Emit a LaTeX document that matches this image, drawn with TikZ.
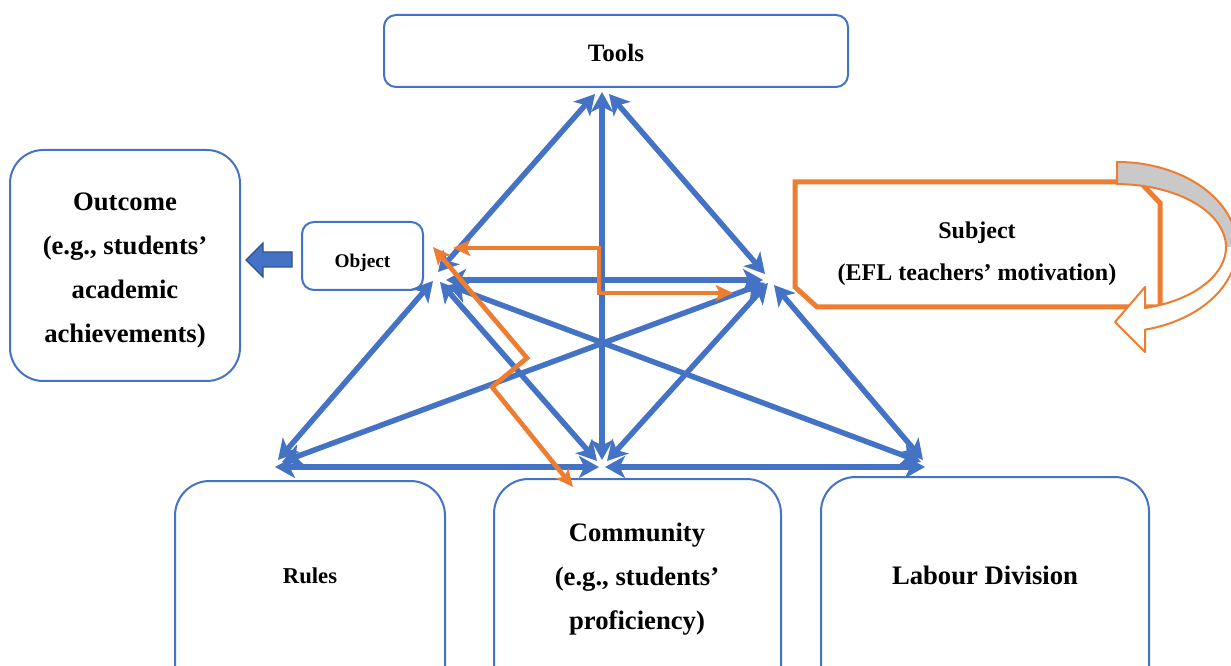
\documentclass[tikz,border=0pt]{standalone}
\usepackage{fontspec}
\setmainfont{Liberation Serif}
\usetikzlibrary{arrows.meta}
\definecolor{bleu}{HTML}{4472C4}
\definecolor{bleuf}{HTML}{2F528F}
\definecolor{orng}{HTML}{ED7D31}
\definecolor{gris}{HTML}{C9C9C9}

\begin{document}
\begin{tikzpicture}[x=0.75pt, y=-0.75pt,
            boite/.style={draw=bleu, line width=1.5pt, rounded corners=#1, fill=white}, boite/.default=9pt,
            gros/.style={font=\fontsize{20}{33}\selectfont\bfseries, align=center},
            lien/.style={draw=bleu, line width=4.1pt,
                {Stealth[length=15pt,width=16.5pt,inset=4pt]}-{Stealth[length=15pt,width=16.5pt,inset=4pt]}},
            chemin/.style={draw=orng, line width=3.5pt,
                {Stealth[length=13pt,width=12pt,inset=3pt]}-{Stealth[length=13pt,width=12pt,inset=3pt]}},
        ]
        \useasboundingbox (0,0) rectangle (1231,666);
        % corners of the two triangles
        \coordinate (tp) at (602,92);
        \coordinate (ob) at (438,280);
        \coordinate (sb) at (767,280);
        \coordinate (rl) at (277,466);
        \coordinate (cm) at (602,466);
        \coordinate (lb) at (923,466);

        \node[boite, minimum width=348pt, minimum height=54pt, text height=16pt, text depth=0pt,
            font=\fontsize{18.75}{22}\selectfont\bfseries] (tools) at (616,51) {Tools};
        \node[boite=25pt, minimum width=172.5pt, minimum height=173.25pt] (outcomebox) at (125,265.5) {};
        \node[gros] (outcome) at (125,271) {Outcome\\(e.g., students’\\academic\\achievements)};
        \node[boite, minimum width=90.75pt, minimum height=51pt, text height=17pt, text depth=0pt,
            font=\fontsize{14.5}{17}\selectfont\bfseries] (object) at (362.5,256) {Object};
        \filldraw[fill=bleu, draw=bleuf, line width=1pt] (292,252) -- (263,252) -- (263,243)
            -- (246,260) -- (263,277) -- (263,267) -- (292,267) -- cycle;

        % lower row
        \node[boite=26pt, minimum width=202.5pt, minimum height=195pt, anchor=north] (rulesbox) at (310,480) {};
        \node[font=\fontsize{17}{20}\selectfont\bfseries] (rules) at (310,576) {Rules};
        \node[boite=26pt, minimum width=215.25pt, minimum height=195pt, anchor=north] (communitybox) at (637.5,478) {};
        \node[gros] (community) at (637,579) {Community\\(e.g., students’\\proficiency)};
        \node[boite=26pt, minimum width=246pt, minimum height=195pt, anchor=north] (labourbox) at (985,476) {};
        \node[gros] (labour) at (985,575) {Labour Division};

        % subject frame and its turning arrow
        \draw[orng, line width=3.75pt] (795,182) -- (1140,182) -- (1160,203) -- (1160,307)
            -- (817,307) -- (795,287) -- cycle;
        \node[font=\fontsize{18}{31.5}\selectfont\bfseries, align=center] (subject)
            at (977,254) {Subject\\(EFL teachers’ motivation)};
        \fill[gris] (1117,162) arc[start angle=-90, end angle=0, x radius=120, y radius=85]
            -- (1226,247) arc[start angle=0, end angle=-90, x radius=109, y radius=63] -- cycle;
        \fill[white] (1237,247) arc[start angle=0, end angle=76.5, x radius=120, y radius=85]
            -- (1145,352) -- (1115,322) -- (1145,287) -- (1145,308)
            arc[start angle=75.1, end angle=0, x radius=109, y radius=63] -- cycle;
        \draw[orng, line width=1.5pt, line join=round] (1117,162)
            arc[start angle=-90, end angle=76.5, x radius=120, y radius=85]
            -- (1145,352) -- (1115,322) -- (1145,287) -- (1145,308)
            arc[start angle=75.1, end angle=-90, x radius=109, y radius=63] -- cycle;

        % links
        \draw[lien] ([shift={(-7,2)}]tp) -- ([shift={(0,-8)}]ob);
        \draw[lien] ([shift={(7,2)}]tp) -- ([shift={(-2,-6)}]sb);
        \draw[lien] (tp) -- ([shift={(0,-6)}]cm);
        \draw[lien] ([shift={(8,0)}]ob) -- ([shift={(-4,0)}]sb);
        \draw[lien] ([shift={(-5,1)}]ob) -- ([shift={(1,-6)}]rl);
        \draw[lien] ([shift={(2,2)}]ob) -- ([shift={(-5,-5)}]cm);
        \draw[lien] ([shift={(10,5)}]ob) -- ([shift={(-2,-4)}]lb);
        \draw[lien] ([shift={(-2,3)}]sb) -- ([shift={(5,-4)}]rl);
        \draw[lien] ([shift={(1,3)}]sb) -- ([shift={(5,-5)}]cm);
        \draw[lien] ([shift={(7,5)}]sb) -- ([shift={(0,-6)}]lb);
        \draw[lien] ([shift={(-2,1)}]rl) -- ([shift={(-3,1)}]cm);
        \draw[lien] ([shift={(3,1)}]cm) -- ([shift={(2,1)}]lb);

        % orange paths
        \coordinate (oa) at (453,248);
        \coordinate (ob2) at (733,293);
        \coordinate (oc) at (433,247);
        \coordinate (od) at (573,487);
        \draw[chemin] (oa) -- (599,248) -- (599,293) -- (ob2);
        \draw[chemin] (oc) -- (527,358) -- (492,387) -- (od);
    \end{tikzpicture}
\end{document}
